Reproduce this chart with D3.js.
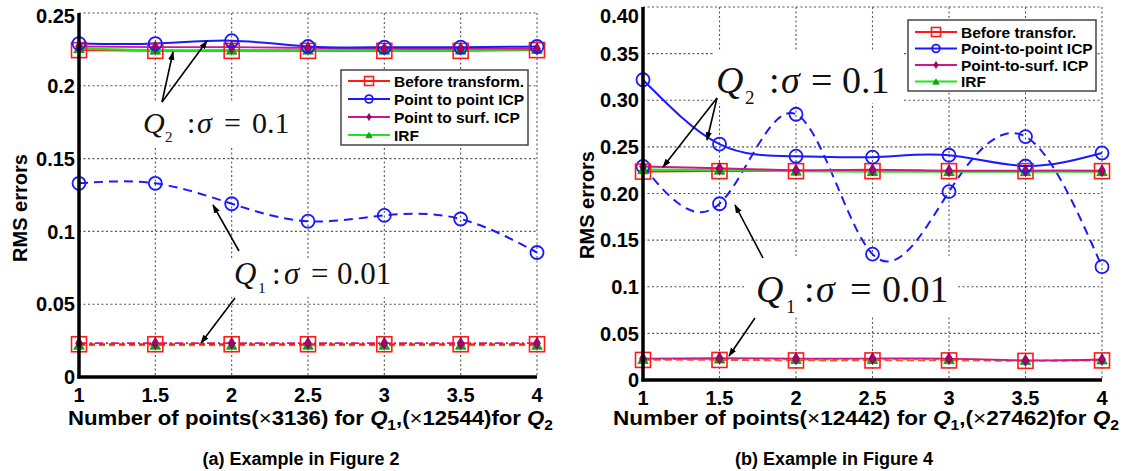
<!DOCTYPE html>
<html>
<head>
<meta charset="utf-8">
<script src="https://cdn.jsdelivr.net/npm/d3@7"></script>
<style>
  body { margin: 0; background: #fff; }
  text { font-family: "Liberation Sans", Arial, sans-serif; }
  .math { font-family: "Liberation Serif", "Times New Roman", serif; }
</style>
</head>
<body>
<div id="chart"></div>
<script>
// x values shared by both panels
var xVals = [1, 1.5, 2, 2.5, 3, 3.5, 4];
var xTickLabels = ["1", "1.5", "2", "2.5", "3", "3.5", "4"];

// panel (a) -- Figure 2
var aBeforeQ2 = [0.2245, 0.224, 0.224, 0.224, 0.224, 0.224, 0.2245];
var aP2pQ2    = [0.229, 0.229, 0.231, 0.227, 0.2265, 0.2265, 0.227];
var aP2sQ2    = [0.227, 0.2265, 0.2265, 0.226, 0.2255, 0.2255, 0.2255];
var aIrfQ2    = [0.2255, 0.2245, 0.2245, 0.2245, 0.2245, 0.2245, 0.225];
var aBeforeQ1 = [0.0225, 0.0225, 0.0225, 0.0225, 0.0225, 0.0225, 0.0225];
var aP2pQ1    = [0.133, 0.133, 0.119, 0.107, 0.111, 0.1085, 0.0855];
var aP2sQ1    = [0.0232, 0.0232, 0.0232, 0.0232, 0.0232, 0.0232, 0.0232];
var aIrfQ1    = [0.0218, 0.0218, 0.0218, 0.0218, 0.0218, 0.0218, 0.0218];
var aYTicks   = [0, 0.05, 0.1, 0.15, 0.2, 0.25];
var aYLabels  = ["0", "0.05", "0.1", "0.15", "0.2", "0.25"];
var aLegend   = ["Before transform.", "Point to point ICP", "Point to surf. ICP", "IRF"];

// panel (b) -- Figure 4
var bBeforeQ2 = [0.2235, 0.224, 0.224, 0.224, 0.224, 0.224, 0.224];
var bP2pQ2    = [0.322, 0.253, 0.240, 0.239, 0.241, 0.2295, 0.2435];
var bP2sQ2    = [0.229, 0.227, 0.225, 0.2255, 0.2245, 0.2245, 0.2245];
var bIrfQ2    = [0.2255, 0.225, 0.224, 0.2235, 0.2235, 0.2235, 0.2235];
var bBeforeQ1 = [0.0215, 0.0215, 0.021, 0.021, 0.021, 0.0205, 0.021];
var bP2pQ1    = [0.229, 0.189, 0.285, 0.135, 0.202, 0.261, 0.1215];
var bP2sQ1    = [0.023, 0.0235, 0.023, 0.023, 0.023, 0.021, 0.022];
var bIrfQ1    = [0.022, 0.0225, 0.022, 0.022, 0.022, 0.021, 0.0215];
var bYTicks   = [0, 0.05, 0.1, 0.15, 0.2, 0.25, 0.3, 0.35, 0.4];
var bYLabels  = ["0", "0.05", "0.1", "0.15", "0.20", "0.25", "0.30", "0.35", "0.40"];
var bLegend   = ["Before transfor.", "Point-to-point ICP", "Point-to-surf. ICP", "IRF"];

var RED = "#ff1a1a", BLUE = "#1a1aff", MAG = "#d4148c", MAGFILL = "#a8006e", GREEN = "#1ee61e";

var svg = d3.select("#chart").append("svg")
  .attr("width", 1124)
  .attr("height", 471)
  .style("background", "#fff");

var defs = svg.append("defs");
defs.append("marker")
  .attr("id", "arrow")
  .attr("viewBox", "0 0 10 10")
  .attr("refX", 9).attr("refY", 5)
  .attr("markerWidth", 9).attr("markerHeight", 9)
  .attr("markerUnits", "userSpaceOnUse")
  .attr("orient", "auto")
  .append("path")
  .attr("d", "M0,1.5 L10,5 L0,8.5 Z")
  .attr("fill", "#000");

function drawMarker(g, type, cx, cy, small) {
  var k = small ? 0.6 : 1;
  if (type == "square") {
    var s = 15 * k;
    g.append("rect").attr("x", cx - s / 2).attr("y", cy - s / 2)
      .attr("width", s).attr("height", s)
      .attr("fill", "none").attr("stroke", RED).attr("stroke-width", 1.6);
  } else if (type == "circle") {
    g.append("circle").attr("cx", cx).attr("cy", cy).attr("r", 6.5 * k)
      .attr("fill", "none").attr("stroke", BLUE).attr("stroke-width", 1.8);
  } else if (type == "diamond") {
    g.append("path")
      .attr("d", d3.symbol().type(d3.symbolDiamond).size(42 * k * k)())
      .attr("transform", "translate(" + cx + "," + cy + ")")
      .attr("fill", MAGFILL).attr("stroke", "#600040").attr("stroke-width", 0.6);
  } else if (type == "triangle") {
    g.append("path")
      .attr("d", d3.symbol().type(d3.symbolTriangle).size(48 * k * k)())
      .attr("transform", "translate(" + cx + "," + (cy + 1) + ")")
      .attr("fill", "#00b400").attr("stroke", "#008000").attr("stroke-width", 0.6);
  }
}

function drawPanel(p) {
  var x = d3.scaleLinear().domain([1, 4]).range([p.left, p.right]);
  var y = d3.scaleLinear().domain([0, p.yMax]).range([p.bottom, p.top]);
  var g = svg.append("g");

  // dotted grid
  g.selectAll(".vg").data(xVals).enter().append("line")
    .attr("x1", function (d) { return x(d); }).attr("x2", function (d) { return x(d); })
    .attr("y1", p.top).attr("y2", p.bottom)
    .attr("stroke", "#555").attr("stroke-width", 1.1).attr("stroke-dasharray", "2,2.5");
  g.selectAll(".hg").data(p.yTicks).enter().append("line")
    .attr("x1", p.left).attr("x2", p.right)
    .attr("y1", function (d) { return y(d); }).attr("y2", function (d) { return y(d); })
    .attr("stroke", "#555").attr("stroke-width", 1.1).attr("stroke-dasharray", "2,2.5");

  // white boxes behind the annotations
  p.notes.forEach(function (n) {
    g.append("rect").attr("x", n.box[0]).attr("y", n.box[1])
      .attr("width", n.box[2]).attr("height", n.box[3]).attr("fill", "#fff");
  });

  // series
  var line = d3.line()
    .x(function (d, i) { return x(xVals[i]); })
    .y(function (d) { return y(d); })
    .curve(d3.curveNatural);
  p.series.forEach(function (s) {
    g.append("path").attr("d", line(s.vals))
      .attr("fill", "none").attr("stroke", s.color)
      .attr("stroke-width", s.width || 1.8)
      .attr("stroke-dasharray", s.dash || null);
  });
  p.series.forEach(function (s) {
    s.vals.forEach(function (v, i) { drawMarker(g, s.marker, x(xVals[i]), y(v), false); });
  });

  // annotations
  p.notes.forEach(function (n) {
    var t = g.append("text").attr("class", "math").attr("y", n.base)
      .style("font-size", n.size + "px").attr("fill", "#111");
    t.append("tspan").attr("x", n.xs[0]).style("font-style", "italic").text("Q");
    t.append("tspan").attr("x", n.xs[1]).attr("dy", n.size * 0.3)
      .style("font-size", (n.size * 0.5) + "px").text(n.sub);
    t.append("tspan").attr("x", n.xs[2]).attr("dy", -n.size * 0.3).text(":");
    t.append("tspan").attr("x", n.xs[3]).style("font-style", "italic").text("σ");
    t.append("tspan").attr("x", n.xs[4]).text("=");
    t.append("tspan").attr("x", n.xs[5]).text(n.val);
    n.arrows.forEach(function (a) {
      g.append("line").attr("x1", a[0]).attr("y1", a[1]).attr("x2", a[2]).attr("y2", a[3])
        .attr("stroke", "#000").attr("stroke-width", 1.6).attr("marker-end", "url(#arrow)");
    });
  });

  // axes
  g.append("line").attr("x1", p.left).attr("x2", p.left).attr("y1", p.top).attr("y2", p.bottom + 1.5)
    .attr("stroke", "#000").attr("stroke-width", 3.5);
  g.append("line").attr("x1", p.left - 1.5).attr("x2", p.right).attr("y1", p.bottom).attr("y2", p.bottom)
    .attr("stroke", "#000").attr("stroke-width", 3.5);

  g.selectAll(".yl").data(p.yTicks).enter().append("text")
    .attr("x", p.left - 4)
    .attr("y", function (d, i) { return y(d) + (i == p.yTicks.length - 1 ? p.topShift : 0); })
    .attr("dy", "0.36em")
    .attr("text-anchor", "end")
    .style("font-size", "20px").style("font-weight", "bold")
    .text(function (d, i) { return p.yLabels[i]; });
  g.selectAll(".xl").data(xVals).enter().append("text")
    .attr("x", function (d) { return x(d); })
    .attr("y", p.bottom + 25)
    .attr("text-anchor", "middle")
    .style("font-size", "20px").style("font-weight", "bold")
    .text(function (d, i) { return xTickLabels[i]; });

  // axis titles
  g.append("text")
    .attr("transform", "translate(" + p.yTitleX + "," + p.yTitleY + ") rotate(-90)")
    .attr("text-anchor", "middle")
    .style("font-size", "20px").style("font-weight", "bold")
    .text("RMS errors");
  var xt = g.append("text").attr("x", p.xTitle[0]).attr("y", 425)
    .attr("textLength", p.xTitle[1]).attr("lengthAdjust", "spacingAndGlyphs")
    .style("font-size", "20px").style("font-weight", "bold");
  xt.append("tspan").text("Number of points(");
  xt.append("tspan").style("font-weight", "normal").text("×");
  xt.append("tspan").text(p.mult1 + ") for ");
  xt.append("tspan").style("font-style", "italic").text("Q");
  xt.append("tspan").attr("dy", 5).style("font-size", "14px").text("1");
  xt.append("tspan").attr("dy", -5).text(",(");
  xt.append("tspan").style("font-weight", "normal").text("×");
  xt.append("tspan").text(p.mult2 + ")for ");
  xt.append("tspan").style("font-style", "italic").text("Q");
  xt.append("tspan").attr("dy", 5).style("font-size", "14px").text("2");

  // caption
  g.append("text").attr("x", p.capX).attr("y", 465)
    .attr("text-anchor", "middle")
    .style("font-size", "18px").style("font-weight", "bold")
    .text(p.caption);

  // legend
  var L = p.legend;
  var lg = g.append("g");
  lg.append("rect").attr("x", L.x).attr("y", L.y).attr("width", L.w).attr("height", L.h)
    .attr("fill", "#fff").attr("stroke", "#444").attr("stroke-width", 1.5);
  var legColors = [RED, BLUE, MAG, GREEN];
  var legMarks = ["square", "circle", "diamond", "triangle"];
  L.labels.forEach(function (lab, i) {
    var ry = L.y + L.first + i * L.step;
    lg.append("line").attr("x1", L.x + 7).attr("x2", L.x + 49).attr("y1", ry).attr("y2", ry)
      .attr("stroke", legColors[i]).attr("stroke-width", 2);
    drawMarker(lg, legMarks[i], L.x + 28, ry, true);
    lg.append("text").attr("x", L.x + 53).attr("y", ry).attr("dy", "0.36em")
      .style("font-size", "15.5px").style("font-weight", "bold")
      .text(lab);
  });
}

drawPanel({
  left: 79, right: 537, top: 13, bottom: 377, yMax: 0.25, topShift: 3,
  yTicks: aYTicks, yLabels: aYLabels,
  yTitleX: 27, yTitleY: 208,
  xTitle: [68, 485], mult1: "3136", mult2: "12544",
  capX: 301, caption: "(a) Example in Figure 2",
  series: [
    { vals: aIrfQ1, color: GREEN, marker: "triangle", dash: "6,4" },
    { vals: aBeforeQ1, color: RED, marker: "square", dash: "6,4" },
    { vals: aP2sQ1, color: MAG, marker: "diamond", dash: "8,3,2,3" },
    { vals: aP2pQ1, color: BLUE, marker: "circle", dash: "9,6", width: 2 },
    { vals: aBeforeQ2, color: RED, marker: "square" },
    { vals: aIrfQ2, color: GREEN, marker: "triangle", width: 2.2 },
    { vals: aP2sQ2, color: MAG, marker: "diamond" },
    { vals: aP2pQ2, color: BLUE, marker: "circle", width: 2 }
  ],
  notes: [
    { box: [140, 101, 162, 46], base: 133, size: 30, sub: "2", val: "0.1",
      xs: [143, 165, 187, 197, 224, 252],
      arrows: [[162, 102, 173, 52], [162, 102, 207, 41]] },
    { box: [226, 258, 172, 39], base: 284, size: 31, sub: "1", val: "0.01",
      xs: [234, 258, 272, 284, 311, 337],
      arrows: [[239, 251, 213, 205], [235, 298, 201, 343]] }
  ],
  legend: { x: 341, y: 70, w: 187, h: 75, first: 11, step: 18, labels: aLegend }
});

drawPanel({
  left: 643, right: 1102, top: 7, bottom: 380, yMax: 0.4, topShift: 9,
  yTicks: bYTicks, yLabels: bYLabels,
  yTitleX: 594, yTitleY: 205,
  xTitle: [613, 506], mult1: "12442", mult2: "27462",
  capX: 834, caption: "(b) Example in Figure 4",
  series: [
    { vals: bIrfQ1, color: GREEN, marker: "triangle", dash: "6,4" },
    { vals: bBeforeQ1, color: "#f05a28", marker: "square", dash: "7,4" },
    { vals: bP2sQ1, color: MAG, marker: "diamond" },
    { vals: bP2pQ1, color: BLUE, marker: "circle", dash: "9,6", width: 2 },
    { vals: bBeforeQ2, color: RED, marker: "square" },
    { vals: bIrfQ2, color: GREEN, marker: "triangle", width: 2.2 },
    { vals: bP2sQ2, color: MAG, marker: "diamond", width: 2 },
    { vals: bP2pQ2, color: BLUE, marker: "circle", width: 2 }
  ],
  notes: [
    { box: [713, 50, 189, 53], base: 93, size: 38, sub: "2", val: "0.1",
      xs: [716, 745, 769, 781, 811, 842],
      arrows: [[717, 98, 707, 140], [717, 98, 663, 167]] },
    { box: [744, 256, 212, 60], base: 302, size: 38, sub: "1", val: "0.01",
      xs: [756, 786, 804, 816, 850, 882],
      arrows: [[763, 258, 735, 205], [755, 318, 729, 356]] }
  ],
  legend: { x: 908, y: 20, w: 188, h: 71, first: 12, step: 16.5, labels: bLegend }
});
</script>
</body>
</html>
